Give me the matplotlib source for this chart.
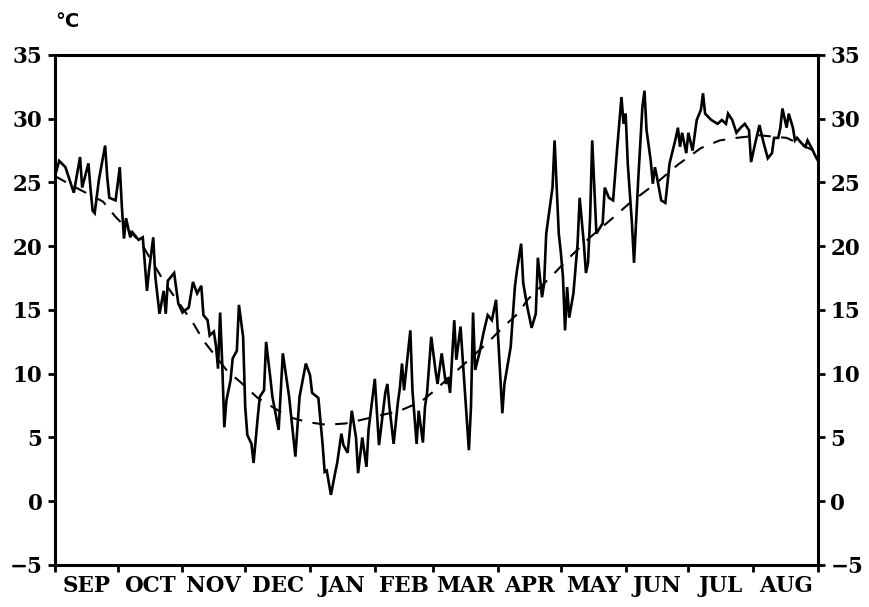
import numpy as np
import matplotlib
matplotlib.use("Agg")
import matplotlib.pyplot as plt

# daily air temperature (day counted from 1 Sep)
days = [0, 2, 5, 9, 12, 13, 16, 17, 18, 19, 21, 24, 25, 26, 29, 31, 32, 33, 34, 36,
        37, 40, 42, 44, 45, 47, 48, 50, 52, 53, 54, 57, 59, 61, 64, 66, 68, 70, 71, 73,
        74, 76, 77, 78, 79, 80, 81, 82, 84, 85, 87, 88, 90, 91, 92, 94, 95, 97, 98, 100,
        101, 103, 104, 107, 109, 112, 115, 117, 120, 122, 123, 126, 128, 129, 130, 132, 134, 135, 137, 138,
        140, 142, 144, 145, 147, 149, 150, 153, 155, 158, 159, 160, 162, 164, 165, 166, 167, 168, 170, 171,
        173, 174, 176, 177, 178, 180, 182, 183, 185, 187, 188, 189, 191, 192, 194, 195, 197, 198, 199, 200,
        201, 203, 205, 207, 209, 211, 214, 215, 218, 220, 221, 223, 224, 226, 228, 230, 231, 233, 234, 235,
        238, 239, 241, 242, 243, 244, 245, 246, 248, 250, 251, 253, 254, 255, 256, 257, 258, 259, 262, 263,
        265, 267, 269, 271, 272, 273, 274, 276, 277, 278, 279, 281, 282, 283, 285, 286, 287, 288, 290, 292,
        294, 297, 298, 299, 300, 302, 303, 305, 307, 309, 310, 311, 314, 317, 319, 321, 322, 324, 326, 328,
        330, 332, 333, 335, 337, 339, 341, 343, 344, 346, 347, 348, 350, 351, 353, 354, 355, 357, 359, 360,
        362, 364, 365]
temps = [25.5, 26.7, 26.2, 24.2, 27.0, 24.6, 26.5, 24.5, 22.8, 22.6, 25.2, 27.9, 25.4, 23.8, 23.6, 26.2, 23.1, 20.6, 22.2, 20.7,
         21.1, 20.5, 20.7, 16.5, 18.1, 20.7, 17.6, 14.7, 16.5, 14.7, 17.3, 17.9, 15.5, 14.8, 15.2, 17.2, 16.3, 16.9, 14.6, 14.2,
         13.0, 13.3, 12.2, 10.4, 14.8, 10.8, 5.8, 7.9, 9.5, 11.2, 11.8, 15.4, 12.9, 7.4, 5.2, 4.5, 3.0, 6.6, 8.2, 8.7,
         12.5, 9.7, 8.2, 5.6, 11.6, 8.2, 3.5, 8.2, 10.8, 9.9, 8.5, 8.1, 4.5, 2.3, 2.4, 0.5, 2.2, 3.0, 5.3, 4.4,
         3.8, 7.1, 5.0, 2.2, 5.0, 2.7, 5.6, 9.6, 4.4, 8.5, 9.2, 7.4, 4.5, 7.7, 8.9, 10.8, 8.7, 10.3, 13.4, 8.7,
         4.5, 7.1, 4.6, 7.4, 8.5, 12.9, 10.3, 9.2, 11.6, 9.2, 9.7, 8.5, 14.2, 11.1, 13.7, 11.3, 6.6, 4.0, 7.4, 14.8,
         10.3, 11.6, 13.2, 14.6, 14.2, 15.8, 6.9, 9.2, 12.1, 16.8, 18.1, 20.2, 17.1, 15.2, 13.6, 14.7, 19.1, 16.0, 17.1, 21.0,
         24.6, 28.3, 21.0, 19.5, 17.6, 13.4, 16.8, 14.4, 16.3, 20.2, 23.8, 20.2, 17.9, 18.7, 22.3, 28.3, 24.6, 21.0, 21.8, 24.6,
         23.8, 23.6, 27.8, 31.7, 29.6, 30.4, 26.5, 21.8, 18.7, 22.0, 25.2, 30.9, 32.2, 29.1, 26.7, 24.9, 26.2, 25.4, 23.6, 23.4,
         26.5, 28.5, 29.3, 27.8, 28.9, 27.3, 28.9, 27.5, 29.9, 30.7, 32.0, 30.4, 29.9, 29.6, 29.9, 29.6, 30.4, 29.9, 28.9, 29.3,
         29.6, 29.1, 26.6, 28.1, 29.5, 28.1, 26.9, 27.3, 28.5, 28.5, 29.3, 30.8, 29.3, 30.4, 29.3, 28.3, 28.5, 28.1, 27.8, 28.3,
         27.7, 27.0, 26.7]

# long-term mean curve (dashed)
mean_days = [0, 10, 23, 29, 41, 53, 66, 71, 82, 89, 97, 104, 112, 121, 130, 139, 147, 165, 175, 181,
             194, 208, 214, 222, 226, 239, 246, 256, 266, 275, 288, 298, 309, 318, 326, 337, 350, 363, 365]
mean_temps = [25.5, 24.6, 23.5, 22.3, 20.3, 17.0, 14.0, 12.6, 10.3, 9.3, 8.1, 7.4, 6.6, 6.2, 6.0, 6.1, 6.4, 7.1, 7.8, 8.6,
              10.5, 12.6, 13.6, 14.8, 15.8, 17.9, 19.1, 20.7, 22.1, 23.4, 25.0, 26.4, 27.7, 28.3, 28.5, 28.7, 28.5, 27.5, 27.2]

months = ["SEP", "OCT", "NOV", "DEC", "JAN", "FEB", "MAR", "APR", "MAY", "JUN", "JUL", "AUG"]
month_len = [30, 31, 30, 31, 31, 28, 31, 30, 31, 30, 31, 31]
y_ticks = [-5, 0, 5, 10, 15, 20, 25, 30, 35]

bounds = np.concatenate([[0], np.cumsum(month_len)])
mids = (bounds[:-1] + bounds[1:]) / 2

fig = plt.figure(figsize=(8.7, 6.07), dpi=100)
ax = fig.add_axes([0.0632, 0.0692, 0.877, 0.8402])

ax.plot(days, temps, color="black", lw=1.9, solid_joinstyle="miter")
ax.plot(mean_days, mean_temps, color="black", lw=1.5, dashes=(6, 5))

ax.set_xlim(0, 365)
ax.set_ylim(-5, 35)

font = dict(family="DejaVu Serif", weight="bold", size=15.5)

ax.set_xticks(bounds)
ax.set_xticklabels([])
ax.set_xticks(mids, minor=True)
ax.set_xticklabels(months, minor=True, fontdict=font)
ax.tick_params(axis="x", which="major", direction="out", length=5, width=2)
ax.tick_params(axis="x", which="minor", length=0, pad=7)

ax.set_yticks(y_ticks)
ax.set_yticklabels([str(v).replace("-", "\u2212") for v in y_ticks], fontdict=font)
ax.tick_params(axis="y", which="both", direction="out", length=5, width=2,
               left=True, right=True, labelleft=True, labelright=True, pad=4)

for s in ax.spines.values():
    s.set_linewidth(2.2)

fig.text(0.078, 0.965, "\u00b0C", ha="center", va="center",
         family="DejaVu Sans", weight="bold", size=14)

fig.savefig("out.png", dpi=100)
